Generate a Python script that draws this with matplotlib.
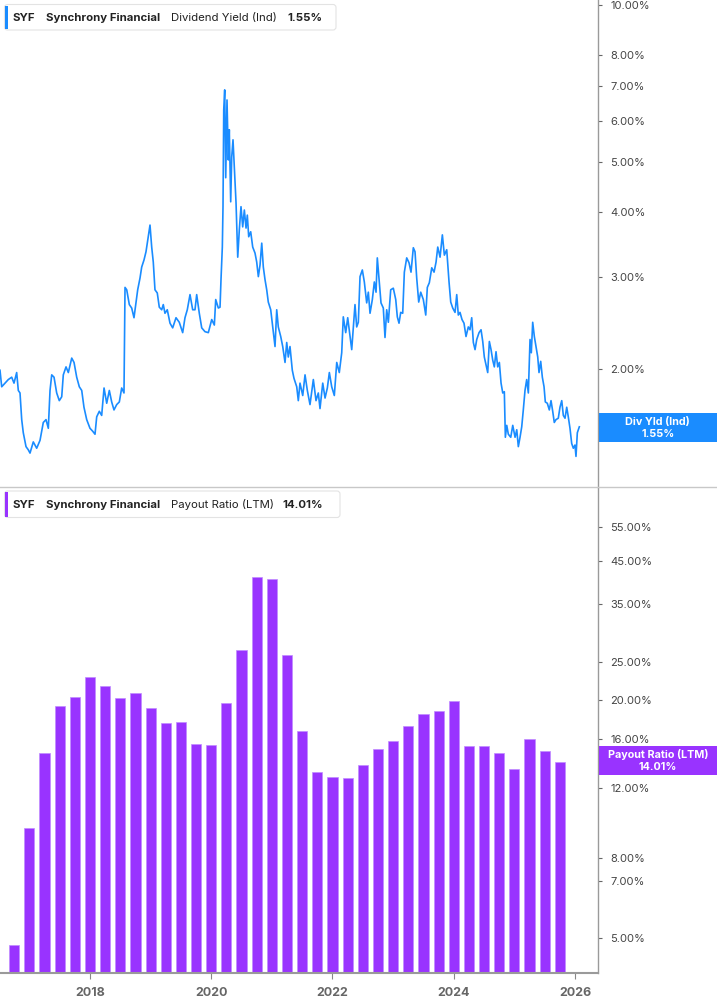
import matplotlib
matplotlib.use('Agg')
import matplotlib.pyplot as plt
from matplotlib.patches import FancyBboxPatch, Rectangle
from matplotlib.lines import Line2D
from matplotlib.transforms import IdentityTransform
import matplotlib.ticker as mticker

plt.rcParams['font.family'] = ['Inter', 'DejaVu Sans']

# ---------------- data ----------------
# Dividend yield (indicated), % ; time as decimal year
yld_t = [2016.516, 2016.544, 2016.598, 2016.653, 2016.709, 2016.747, 2016.791, 2016.818, 2016.846, 2016.874,
         2016.900, 2016.945, 2016.983, 2017.011, 2017.065, 2017.121, 2017.176, 2017.230, 2017.275, 2017.313,
         2017.341, 2017.369, 2017.407, 2017.451, 2017.494, 2017.534, 2017.560, 2017.605, 2017.643, 2017.699,
         2017.737, 2017.781, 2017.824, 2017.864, 2017.901, 2017.946, 2018.000, 2018.045, 2018.083, 2018.111,
         2018.154, 2018.193, 2018.232, 2018.276, 2018.319, 2018.358, 2018.396, 2018.441, 2018.484, 2018.523,
         2018.561, 2018.578, 2018.606, 2018.649, 2018.688, 2018.726, 2018.759, 2018.787, 2018.825, 2018.853,
         2018.891, 2018.924, 2018.962, 2018.990, 2019.018, 2019.044, 2019.072, 2019.110, 2019.143, 2019.183,
         2019.209, 2019.237, 2019.275, 2019.320, 2019.364, 2019.419, 2019.473, 2019.529, 2019.567, 2019.605,
         2019.650, 2019.694, 2019.732, 2019.760, 2019.803, 2019.843, 2019.897, 2019.952, 2020.008, 2020.051,
         2020.074, 2020.117, 2020.145, 2020.161, 2020.183, 2020.194, 2020.206, 2020.222, 2020.239, 2020.260,
         2020.282, 2020.298, 2020.321, 2020.338, 2020.359, 2020.381, 2020.409, 2020.437, 2020.463, 2020.491,
         2020.519, 2020.546, 2020.574, 2020.595, 2020.618, 2020.651, 2020.684, 2020.722, 2020.750, 2020.777,
         2020.805, 2020.833, 2020.859, 2020.887, 2020.915, 2020.941, 2020.981, 2021.014, 2021.052, 2021.080,
         2021.106, 2021.146, 2021.179, 2021.217, 2021.245, 2021.271, 2021.299, 2021.337, 2021.365, 2021.410,
         2021.436, 2021.464, 2021.509, 2021.547, 2021.585, 2021.629, 2021.684, 2021.728, 2021.766, 2021.794,
         2021.839, 2021.877, 2021.915, 2021.948, 2021.987, 2022.030, 2022.070, 2022.112, 2022.152, 2022.178,
         2022.218, 2022.251, 2022.289, 2022.317, 2022.343, 2022.371, 2022.399, 2022.426, 2022.454, 2022.492,
         2022.525, 2022.564, 2022.591, 2022.619, 2022.657, 2022.690, 2022.718, 2022.739, 2022.772, 2022.800,
         2022.838, 2022.866, 2022.894, 2022.921, 2022.960, 2023.003, 2023.043, 2023.069, 2023.097, 2023.125,
         2023.158, 2023.185, 2023.224, 2023.262, 2023.295, 2023.333, 2023.361, 2023.389, 2023.422, 2023.455,
         2023.498, 2023.538, 2023.564, 2023.597, 2023.637, 2023.675, 2023.708, 2023.736, 2023.774, 2023.812,
         2023.845, 2023.884, 2023.922, 2023.950, 2023.983, 2024.021, 2024.049, 2024.075, 2024.103, 2024.136,
         2024.169, 2024.202, 2024.240, 2024.268, 2024.296, 2024.323, 2024.351, 2024.379, 2024.417, 2024.450,
         2024.478, 2024.504, 2024.532, 2024.560, 2024.587, 2024.615, 2024.643, 2024.669, 2024.697, 2024.725,
         2024.752, 2024.780, 2024.808, 2024.834, 2024.851, 2024.874, 2024.900, 2024.940, 2024.973, 2025.011,
         2025.039, 2025.065, 2025.093, 2025.121, 2025.147, 2025.175, 2025.203, 2025.230, 2025.258, 2025.279,
         2025.302, 2025.329, 2025.357, 2025.385, 2025.406, 2025.434, 2025.461, 2025.489, 2025.510, 2025.543,
         2025.576, 2025.604, 2025.632, 2025.658, 2025.686, 2025.724, 2025.752, 2025.781, 2025.807, 2025.835,
         2025.863, 2025.889, 2025.917, 2025.945, 2025.972, 2025.999, 2026.016, 2026.038, 2026.071]
yld_v = [1.99, 1.85, 1.88, 1.91, 1.93, 1.88, 1.97, 1.82, 1.80, 1.60,
         1.51, 1.42, 1.40, 1.38, 1.45, 1.41, 1.46, 1.58, 1.60, 1.54,
         1.82, 1.95, 1.93, 1.80, 1.74, 1.77, 1.95, 2.02, 1.97, 2.10,
         2.06, 1.93, 1.85, 1.82, 1.69, 1.60, 1.54, 1.52, 1.50, 1.62,
         1.66, 1.63, 1.84, 1.72, 1.82, 1.73, 1.67, 1.71, 1.73, 1.84,
         1.80, 2.87, 2.84, 2.66, 2.62, 2.51, 2.68, 2.84, 2.99, 3.14,
         3.24, 3.36, 3.59, 3.78, 3.43, 3.21, 2.84, 2.80, 2.63, 2.60,
         2.66, 2.56, 2.60, 2.45, 2.40, 2.51, 2.46, 2.35, 2.51, 2.60,
         2.78, 2.60, 2.60, 2.78, 2.56, 2.40, 2.36, 2.35, 2.49, 2.43,
         2.72, 2.62, 2.63, 2.97, 3.43, 4.10, 6.29, 6.87, 4.66, 6.57,
         5.04, 5.76, 4.19, 5.11, 5.51, 4.89, 4.17, 3.28, 3.70, 4.10,
         3.75, 4.04, 3.73, 3.95, 3.59, 3.67, 3.43, 3.34, 3.21, 3.01,
         3.17, 3.49, 3.14, 2.97, 2.84, 2.69, 2.60, 2.41, 2.21, 2.60,
         2.41, 2.31, 2.21, 2.06, 2.25, 2.11, 2.21, 1.99, 1.92, 1.85,
         1.74, 1.88, 1.78, 1.95, 1.82, 1.71, 1.91, 1.74, 1.80, 1.68,
         1.88, 1.76, 1.84, 1.97, 1.85, 1.78, 2.06, 1.97, 2.15, 2.52,
         2.35, 2.51, 2.31, 2.18, 2.40, 2.66, 2.41, 2.46, 3.01, 3.10,
         2.94, 2.68, 2.81, 2.56, 2.72, 2.94, 2.81, 3.27, 2.94, 2.68,
         2.62, 2.30, 2.60, 2.46, 2.84, 2.86, 2.72, 2.52, 2.45, 2.57,
         2.56, 3.07, 3.27, 3.20, 3.07, 3.42, 3.36, 2.99, 2.69, 2.81,
         2.72, 2.54, 2.87, 2.93, 3.13, 3.07, 3.21, 3.43, 3.28, 3.62,
         3.31, 3.39, 2.94, 2.69, 2.62, 2.57, 2.78, 2.54, 2.57, 2.49,
         2.45, 2.31, 2.41, 2.38, 2.51, 2.25, 2.18, 2.28, 2.35, 2.38,
         2.26, 2.11, 2.04, 1.97, 2.26, 2.18, 2.08, 2.02, 2.16, 2.02,
         2.06, 1.88, 1.80, 1.81, 1.48, 1.56, 1.50, 1.48, 1.56, 1.48,
         1.53, 1.42, 1.48, 1.55, 1.67, 1.82, 1.91, 1.80, 2.28, 2.15,
         2.46, 2.31, 2.21, 2.11, 1.97, 2.07, 1.93, 1.85, 1.73, 1.72,
         1.67, 1.74, 1.66, 1.58, 1.60, 1.61, 1.69, 1.74, 1.63, 1.61,
         1.69, 1.62, 1.54, 1.44, 1.41, 1.43, 1.36, 1.51, 1.55]

# Payout ratio (LTM), %, quarterly
quarters = ["2016Q3", "2016Q4",
            "2017Q1", "2017Q2", "2017Q3", "2017Q4",
            "2018Q1", "2018Q2", "2018Q3", "2018Q4",
            "2019Q1", "2019Q2", "2019Q3", "2019Q4",
            "2020Q1", "2020Q2", "2020Q3", "2020Q4",
            "2021Q1", "2021Q2", "2021Q3", "2021Q4",
            "2022Q1", "2022Q2", "2022Q3", "2022Q4",
            "2023Q1", "2023Q2", "2023Q3", "2023Q4",
            "2024Q1", "2024Q2", "2024Q3", "2024Q4",
            "2025Q1", "2025Q2", "2025Q3"]
payout = [4.81, 9.5,
          14.7, 19.4, 20.4, 23.0,
          21.8, 20.3, 20.9, 19.1,
          17.5, 17.6, 15.5, 15.4,
          19.7, 26.9, 41.0, 40.5,
          26.1, 16.7, 13.2, 12.8,
          12.75, 13.75, 15.1, 15.8,
          17.2, 18.5, 18.8, 19.95,
          15.35, 15.3, 14.7, 13.4,
          16.0, 14.9, 14.01]

yld_ticks = [2, 3, 4, 5, 6, 7, 8, 10]
pay_ticks = [5, 7, 8, 12, 16, 20, 25, 35, 45, 55]
year_ticks = [2018, 2020, 2022, 2024, 2026]

ticker_sym = "SYF"
company = "Synchrony Financial"
yld_name = "Dividend Yield (Ind)"
pay_name = "Payout Ratio (LTM)"
yld_last = "1.55%"
pay_last = "14.01%"

# ---------------- layout ----------------
W, H = 717, 1005
BLUE = '#1a8cff'
PURPLE = '#9933ff'
GRID = '#9a9a9a'

fig = plt.figure(figsize=(W / 100, H / 100), dpi=100)
fig.patch.set_facecolor('white')


def fx(x):
    return x / W


def fy(y):
    return 1 - y / H


def qdec(q):
    return int(q[:4]) + int(q[5]) * 0.25


bar_x = [qdec(q) for q in quarters]

XMIN, XMAX = 2016.516, 2026.379

# top axes
ax1 = fig.add_axes([0, fy(487), fx(598), fy(0) - fy(487)])
ax1.plot(yld_t, yld_v, color=BLUE, lw=1.2, solid_joinstyle='round')
ax1.set_yscale('log')
ax1.set_ylim(1.188, 10.22)
ax1.set_xlim(XMIN, XMAX)

# bottom axes
ax2 = fig.add_axes([0, fy(973), fx(598), fy(488) - fy(973)])
ax2.bar(bar_x, payout, width=0.168, color=PURPLE, edgecolor='#c08cff', linewidth=0.5, align='center')
ax2.set_yscale('log')
ax2.set_ylim(4.086, 69.0)
ax2.set_xlim(XMIN, XMAX)

for ax, ticks in ((ax1, yld_ticks), (ax2, pay_ticks)):
    ax.set_facecolor('none')
    for s in ('top', 'left'):
        ax.spines[s].set_visible(False)
    ax.spines['right'].set_color(GRID)
    ax.spines['right'].set_linewidth(1.0)
    ax.yaxis.tick_right()
    ax.yaxis.set_major_locator(mticker.FixedLocator(ticks))
    ax.yaxis.set_minor_locator(mticker.NullLocator())
    ax.yaxis.set_major_formatter(mticker.FuncFormatter(lambda v, p: f"{v:.2f}%"))
    ax.tick_params(axis='y', which='major', length=3, width=0.8, color='#666666',
                   pad=6, labelsize=8, labelcolor='#444444')

ax1.spines['bottom'].set_visible(False)
ax1.set_xticks([])
ax2.spines['bottom'].set_color(GRID)
ax2.spines['bottom'].set_linewidth(1.5)
ax2.set_xticks(year_ticks)
ax2.set_xticklabels([str(y) for y in year_ticks])
ax2.xaxis.set_minor_locator(mticker.NullLocator())
ax2.tick_params(axis='x', length=4, width=0.8, color='#888888', pad=6,
                labelsize=9, labelcolor='#666666')
for lab in ax2.get_xticklabels():
    lab.set_fontweight('bold')

# separator line between panels
fig.add_artist(Line2D([0, 1], [fy(487.5), fy(487.5)], color='#c8c8c8', lw=1.0, transform=fig.transFigure))

ident = IdentityTransform()


def legend_box(ytop, ybot, xright, color, name, value, name_x, value_x):
    box = FancyBboxPatch((4.5, H - ybot), xright - 4.5, ybot - ytop,
                         boxstyle='round,pad=0,rounding_size=3',
                         facecolor='white', edgecolor='#e3e3e3', lw=0.8, transform=ident)
    fig.add_artist(box)
    fig.add_artist(Rectangle((4.5, H - ybot + 1), 3.0, ybot - ytop - 2, facecolor=color,
                             edgecolor='none', transform=ident))
    yc = fy((ytop + ybot) / 2 + 0.5)
    fig.text(fx(13), yc, ticker_sym, fontsize=8.2, fontweight='bold', color='#222222', va='center')
    fig.text(fx(45.5), yc, company, fontsize=8.2, fontweight='bold', color='#222222', va='center')
    fig.text(fx(name_x), yc, name, fontsize=8.2, color='#222222', va='center')
    fig.text(fx(value_x), yc, value, fontsize=8.2, fontweight='bold', color='#222222', va='center')


legend_box(4.5, 30, 336, BLUE, yld_name, yld_last, 171, 287)
legend_box(491, 517.5, 340, PURPLE, pay_name, pay_last, 171, 282.5)


def value_tag(ytop, ybot, color, l1, l2):
    fig.add_artist(Rectangle((598.5, H - ybot), W - 598.5, ybot - ytop, facecolor=color,
                             edgecolor='none', transform=ident))
    xc = fx((598.5 + W) / 2)
    fig.text(xc, fy(ytop + 8.5), l1, fontsize=7.8, fontweight='bold', color='white',
             ha='center', va='center')
    fig.text(xc, fy(ytop + 20.5), l2, fontsize=7.8, fontweight='bold', color='white',
             ha='center', va='center')


value_tag(413, 442, BLUE, "Div Yld (Ind)", yld_last)
value_tag(746, 775, PURPLE, "Payout Ratio (LTM)", pay_last)

fig.savefig('out.png', dpi=100, facecolor='white')
